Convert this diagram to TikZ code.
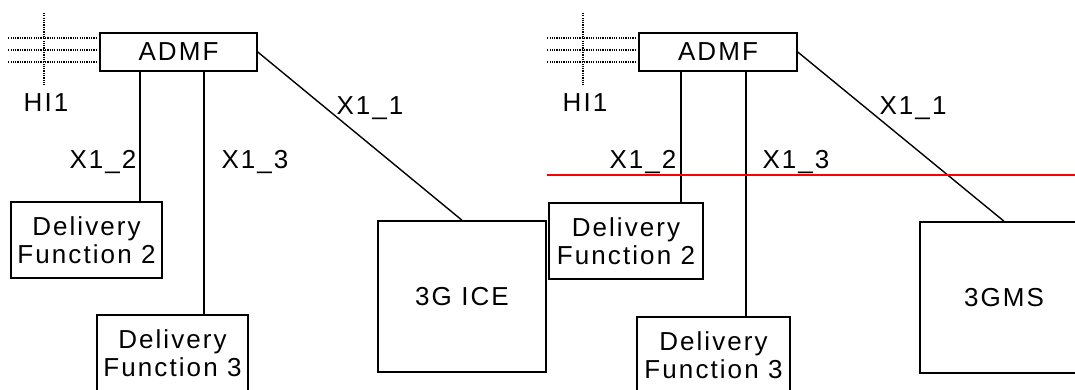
\documentclass[tikz,border=0pt]{standalone}
\usepackage{fontspec}
\setmainfont[LetterSpace=8]{Liberation Sans}
\usetikzlibrary{positioning}

\begin{document}
\begin{tikzpicture}[x=1pt, y=-1pt, line width=1.4pt,
  every node/.style={font=\fontsize{26}{28.5}\selectfont},
  box/.style={draw, line width=1.5pt, inner sep=0pt, align=center},
  hidots/.style={line width=1.3pt, dash pattern=on 1.2pt off 1.1pt}]
  \useasboundingbox (0,0) rectangle (1075,390);
  \clip (0,0) rectangle (1075,390);

  % left: 3G ICE
  \node[box, minimum width=157pt, minimum height=38pt] (admfA) at (178.5,52) {ADMF};
  \node[box, minimum width=151pt, minimum height=76pt] (df2A) at (86.5,240) {Delivery\\Function 2};
  \node[box, minimum width=151pt, minimum height=76pt] (df3A) at (172.5,353) {Delivery\\Function 3};
  \node[box, minimum width=168pt, minimum height=151pt] (ice) at (462,296.5) {3G ICE};
  \draw ([xshift=-38.5pt]admfA.south) -- ([xshift=-38.5pt]admfA.south |- df2A.north);
  \draw ([xshift=25.5pt]admfA.south) -- ([xshift=25.5pt]admfA.south |- df3A.north);
  \draw (admfA.east) -- (ice.north);
  \foreach \dy in {-14,-2,10}
    \draw[hidots] ([shift={(-91,\dy)}]admfA.west) -- ([shift={(-3,\dy)}]admfA.west);
  \coordinate (hiTopA) at (44,13);
  \draw[hidots] (hiTopA) -- ++(0,72);
  \node (hiA) at (46,103) {HI1};
  \node (x11A) at (370,108) {X1\_1};
  \node (x12A) at (103,162) {X1\_2};
  \node (x13A) at (255,162) {X1\_3};

  % right: 3GMS
  \node[box, minimum width=158pt, minimum height=38pt] (admfB) at (718,52) {ADMF};
  \node[box, minimum width=154pt, minimum height=76pt] (df2B) at (626,241) {Delivery\\Function 2};
  \node[box, minimum width=153pt, minimum height=76pt] (df3B) at (713.5,355) {Delivery\\Function 3};
  \node[box, minimum width=168pt, minimum height=151pt] (gms) at (1004,297.5) {3GMS};
  \draw ([xshift=-37pt]admfB.south) -- ([xshift=-37pt]admfB.south |- df2B.north);
  \draw ([xshift=28pt]admfB.south) -- ([xshift=28pt]admfB.south |- df3B.north);
  \draw (admfB.east) -- (gms.north);
  \foreach \dy in {-14,-2,10}
    \draw[hidots] ([shift={(-91,\dy)}]admfB.west) -- ([shift={(-2,\dy)}]admfB.west);
  \coordinate (hiTopB) at (583,13);
  \draw[hidots] (hiTopB) -- ++(0,72);
  \node (hiB) at (585,103) {HI1};
  \node (x11B) at (913,108) {X1\_1};
  \node (x12B) at (643,162) {X1\_2};
  \node (x13B) at (796,162) {X1\_3};

  \coordinate (cutL) at (547,175);
  \coordinate (cutR) at (1080,175);
  \draw[red, line width=1.5pt] (cutL) -- (cutR);
\end{tikzpicture}
\end{document}
